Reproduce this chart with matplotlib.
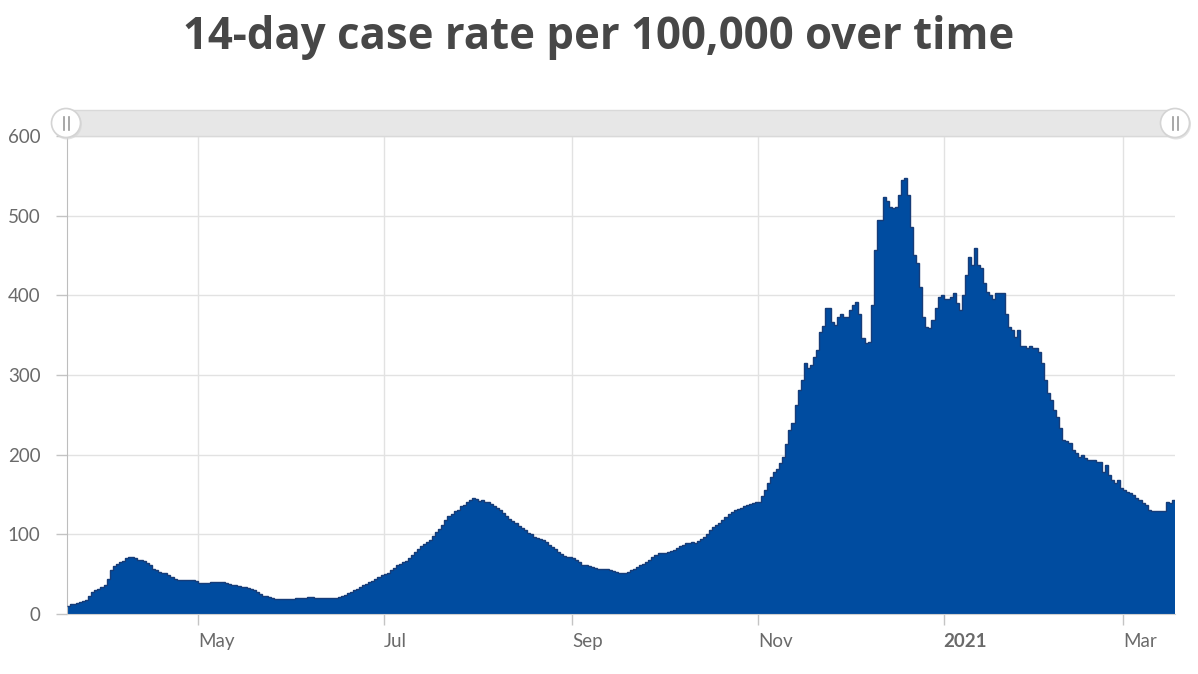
import matplotlib
matplotlib.use("Agg")
import matplotlib.pyplot as plt
import matplotlib.dates as mdates
import matplotlib.transforms as mtransforms
from matplotlib.patches import Rectangle, Circle
from matplotlib.lines import Line2D
import numpy as np
import pandas as pd

title = "14-day case rate per 100,000 over time"
start_date = "2020-03-19"

# daily 14-day case rate per 100,000
case_rate = [
    # Mar 19 - Apr 30
    10, 12, 13, 14, 15, 16, 18, 22, 27, 30, 32, 34, 37, 44, 55, 60, 63, 65, 67, 70,
    72, 72, 70, 68, 68, 67, 64, 61, 57, 55, 53, 52, 51, 49, 47, 44, 43, 43, 43, 43,
    43, 43, 41,
    # May - Jun
    39, 39, 39, 39, 40, 40, 40, 40, 40, 39, 38, 37, 36, 35, 34, 34, 33, 31, 30, 27,
    25, 23, 22, 21, 20, 19, 19, 19, 19, 19, 19, 19, 20, 20, 20, 20, 21, 21, 20, 20,
    20, 20, 20, 20, 20, 20, 21, 22, 24, 26, 28, 30, 32, 34, 36, 38, 40, 42, 44, 46,
    49,
    # Jul - Aug
    50, 52, 55, 58, 61, 63, 65, 67, 70, 74, 78, 82, 85, 88, 91, 93, 98, 103, 107, 112,
    118, 123, 126, 129, 131, 135, 137, 140, 143, 145, 144, 142, 143, 141, 140, 138, 135, 133, 130, 127,
    123, 119, 117, 114, 111, 108, 105, 102, 100, 97, 96, 94, 93, 90, 87, 84, 81, 78, 75, 73,
    72, 71,
    # Sep - Oct
    70, 68, 65, 62, 61, 60, 59, 58, 57, 57, 57, 56, 55, 54, 53, 52, 52, 52, 53, 55,
    57, 59, 61, 63, 65, 68, 71, 74, 76, 76, 77, 78, 79, 80, 83, 85, 87, 89, 89, 90,
    89, 92, 94, 97, 100, 105, 109, 112, 114, 118, 122, 125, 128, 130, 132, 133, 135, 137, 138, 139,
    140,
    # Nov - Dec
    141, 148, 156, 165, 172, 178, 182, 189, 197, 214, 231, 240, 262, 281, 294, 315, 309, 312, 322, 331,
    354, 362, 384, 384, 366, 363, 373, 377, 373, 373, 381, 388, 392, 377, 346, 340, 341, 388, 457, 494,
    495, 523, 519, 511, 509, 511, 526, 545, 547, 526, 486, 450, 440, 410, 373, 360, 359, 369, 384, 398,
    400,
    # Jan - Mar 2021
    396, 396, 398, 403, 391, 381, 400, 425, 448, 438, 460, 438, 434, 416, 404, 400, 396, 403, 403, 403,
    377, 360, 356, 348, 356, 337, 337, 334, 336, 334, 334, 329, 315, 294, 277, 269, 256, 247, 233, 218,
    217, 215, 206, 202, 197, 199, 196, 193, 193, 193, 191, 191, 178, 187, 174, 168, 164, 168, 158, 156,
    153, 152, 149, 146, 143, 139, 137, 130, 129, 129, 129, 129, 129, 141, 139, 143,
]

y_ticks = [0, 100, 200, 300, 400, 500, 600]
x_tick_dates = ["2020-05-01", "2020-07-01", "2020-09-01", "2020-11-01", "2021-01-01", "2021-03-01"]
x_tick_labels = ["May", "Jul", "Sep", "Nov", "2021", "Mar"]

plt.rcParams["font.family"] = ["Lato", "DejaVu Sans"]

dates = pd.date_range(start_date, periods=len(case_rate), freq="D")
xnum = mdates.date2num(dates)

W, H = 1198, 674
fig = plt.figure(figsize=(W / 100, H / 100), dpi=100)
ax = fig.add_axes([67 / W, (H - 614) / H, (1175 - 67) / W, (614 - 136) / H])

bar_color = "#004ca0"
ax.bar(xnum, case_rate, width=1.0, align="edge", color=bar_color, linewidth=0, zorder=2)
edges = np.append(xnum, xnum[-1] + 1)
ax.stairs(case_rate, edges, baseline=None, color="#163c78", linewidth=1.0, zorder=3)

ax.set_xlim(xnum[0], xnum[-1] + 1)
ax.set_ylim(0, 600)

ax.set_yticks(y_ticks)
ax.set_yticklabels([str(v) for v in y_ticks])
tick_pos = mdates.date2num(pd.to_datetime(x_tick_dates))
ax.set_xticks(tick_pos)
ax.set_xticklabels(x_tick_labels, ha="left")

offset = mtransforms.ScaledTranslation(0.06, 0, fig.dpi_scale_trans)
for lab in ax.get_xticklabels():
    lab.set_transform(lab.get_transform() + offset)
    if lab.get_text() == "2021":
        lab.set_fontweight("bold")
        lab.set_color("#555555")

ax.grid(True, color="#e2e2e2", linewidth=1.0, zorder=0)
ax.set_axisbelow(True)

ax.tick_params(axis="x", length=8, width=1, color="#c4c4c4", labelsize=13.5,
               labelcolor="#6a6a6a", pad=6)
ax.tick_params(axis="y", length=8, width=1, color="#c4c4c4", labelsize=13.5,
               labelcolor="#6a6a6a", pad=11)

for s in ["top", "right"]:
    ax.spines[s].set_visible(False)
ax.spines["left"].set_color("#bdbdbd")
ax.spines["bottom"].set_color("#d0d0d0")

# title
fig.text(0.5, 1 - 37 / H, title, ha="center", va="center", fontsize=31.5,
         fontweight="bold", color="#474747", family=["Open Sans", "DejaVu Sans"])

# range scrollbar above the plot
tr = fig.dpi_scale_trans
bar_rect = Rectangle((67 / 100, (H - 136) / 100), (1175 - 67) / 100, 0.26,
                     transform=tr, facecolor="#e7e7e7", edgecolor="#d9d9d9",
                     linewidth=1, zorder=5)
fig.add_artist(bar_rect)
for cx in (66, 1175):
    cxi, cyi = cx / 100, (H - 123) / 100
    shadow = Circle((cxi + 0.01, cyi - 0.015), 0.15, transform=tr,
                    facecolor="#d8d8d8", edgecolor="none", zorder=6, alpha=0.7)
    fig.add_artist(shadow)
    handle = Circle((cxi, cyi), 0.145, transform=tr, facecolor="white",
                    edgecolor="#d4d4d4", linewidth=1.2, zorder=7)
    fig.add_artist(handle)
    for dx in (-0.025, 0.025):
        fig.add_artist(Line2D([cxi + dx, cxi + dx], [cyi - 0.065, cyi + 0.065],
                              transform=tr, color="#9a9a9a", linewidth=1.2, zorder=8))

fig.savefig("out.png", dpi=100)
